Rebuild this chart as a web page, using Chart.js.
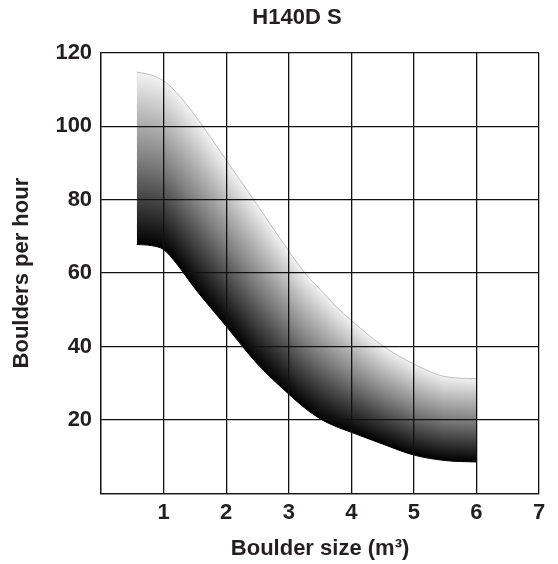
<!DOCTYPE html>
<html>
<head>
<meta charset="utf-8">
<title>H140D S</title>
<script src="https://cdn.jsdelivr.net/npm/chart.js@4"></script>
<style>
    html, body { margin: 0; padding: 0; background: #fff; }
    #wrap { width: 558px; height: 564px; position: relative; }
</style>
</head>
<body>
<div id="wrap"><canvas id="boulderChart"></canvas></div>
<script>
        // Boulder size (m3) and the capacity band
        const sizes = [0.57, 0.8, 1.0, 1.2, 1.5, 2.0, 2.5, 3.0, 3.25, 3.5, 3.75, 4.0, 4.5, 5.0, 5.5, 6.0];
        const upperRate = [114.8, 114, 112.4, 109.3, 103, 90.8, 78.5, 66, 60.2, 55.6, 51, 47.1, 40.2, 35.2, 31.8, 31.2];
        const lowerRate = [67.8, 67.5, 66.4, 62.7, 55.8, 45.5, 35.2, 27.0, 23.3, 20.3, 18.2, 16.6, 13.4, 10.4, 8.9, 8.5];

        // Tick labels
        const xTicks = [0, 1, 2, 3, 4, 5, 6, 7];
        const yTicks = [0, 20, 40, 60, 80, 100, 120];

        const fontFamily = '"Liberation Sans", Arial, Helvetica, sans-serif';
        const ink = '#231f20';

        // value of a series at boulder size v (only used for shading)
        function valueAt(series, v) {
            if (v <= sizes[0]) return series[0];
            for (let i = 1; i < sizes.length; i++) {
                if (v <= sizes[i]) {
                    const t = (v - sizes[i - 1]) / (sizes[i] - sizes[i - 1]);
                    return series[i - 1] + t * (series[i] - series[i - 1]);
                }
            }
            return series[series.length - 1];
        }

        // Shade each column black at the lower edge, light at the upper edge
        let patternCache = null;
        function bandFill(context) {
            const chart = context.chart;
            const area = chart.chartArea;
            if (!area) return '#888';
            const key = [area.left, area.top, area.right, area.bottom].join(',');
            if (patternCache && patternCache.key === key) return patternCache.pattern;

            const xs = chart.scales.x;
            const ys = chart.scales.y;
            const off = document.createElement('canvas');
            off.width = chart.width;
            off.height = chart.height;
            const c = off.getContext('2d');
            const x0 = Math.floor(xs.getPixelForValue(sizes[0])) - 1;
            const x1 = Math.ceil(xs.getPixelForValue(sizes[sizes.length - 1])) + 1;
            for (let px = x0; px <= x1; px++) {
                const v = xs.getValueForPixel(px + 0.5);
                const yUp = ys.getPixelForValue(valueAt(upperRate, v));
                const yLo = ys.getPixelForValue(valueAt(lowerRate, v));
                const g = c.createLinearGradient(0, yLo, 0, yUp);
                g.addColorStop(0, '#000000');
                g.addColorStop(0.5, '#808080');
                g.addColorStop(1, '#f2f2f2');
                c.fillStyle = g;
                c.fillRect(px, area.top, 1, area.bottom - area.top);
            }
            const pattern = chart.ctx.createPattern(off, 'no-repeat');
            patternCache = { key: key, pattern: pattern };
            return pattern;
        }

        // Title drawn a little left of the plot centre, as in the original
        const titlePlugin = {
            id: 'sheetTitle',
            afterDraw(chart) {
                const ctx = chart.ctx;
                ctx.save();
                ctx.font = 'bold 22px ' + fontFamily;
                ctx.fillStyle = ink;
                ctx.textAlign = 'center';
                ctx.textBaseline = 'middle';
                ctx.fillText('H140D S', 297, 18);
                ctx.restore();
            }
        };

        document.addEventListener('DOMContentLoaded', function() {
            const ctx = document.getElementById('boulderChart').getContext('2d');
            const boulderChart = new Chart(ctx, {
                type: 'line',
                data: {
                    labels: sizes,
                    datasets: [{
                        label: 'Upper',
                        data: sizes.map((s, i) => ({ x: s, y: upperRate[i] })),
                        borderColor: '#bdbdbd',
                        borderWidth: 1,
                        backgroundColor: bandFill,
                        fill: '+1',
                        pointRadius: 0,
                        pointBackgroundColor: '#000',
                        cubicInterpolationMode: 'monotone'
                    }, {
                        label: 'Lower',
                        data: sizes.map((s, i) => ({ x: s, y: lowerRate[i] })),
                        borderColor: '#000',
                        borderWidth: 1,
                        backgroundColor: '#000',
                        fill: false,
                        pointRadius: 0,
                        cubicInterpolationMode: 'monotone'
                    }]
                },
                options: {
                    responsive: true,
                    maintainAspectRatio: false,
                    animation: false,
                    layout: {
                        padding: { top: 53, right: 19, bottom: 2, left: 4 }
                    },
                    plugins: {
                        legend: { display: false },
                        tooltip: { enabled: false },
                        title: { display: false }
                    },
                    scales: {
                        x: {
                            type: 'linear',
                            min: 0,
                            max: 7,
                            afterBuildTicks: function(axis) {
                                axis.ticks = xTicks.map(v => ({ value: v }));
                            },
                            grid: {
                                color: '#111',
                                lineWidth: 1.3,
                                drawTicks: false,
                                z: 1
                            },
                            border: { color: '#111', width: 1.3, z: 1 },
                            ticks: {
                                padding: 7,
                                color: ink,
                                font: { family: fontFamily, size: 22, weight: 'bold' },
                                maxRotation: 0,
                                callback: function(value) {
                                    return value === 0 ? '' : value;
                                }
                            },
                            title: {
                                display: true,
                                text: 'Boulder size (m³)',
                                color: ink,
                                font: { family: fontFamily, size: 22, weight: 'bold' },
                                padding: { top: 2, bottom: 0 }
                            }
                        },
                        y: {
                            min: 0,
                            max: 120,
                            afterBuildTicks: function(axis) {
                                axis.ticks = yTicks.map(v => ({ value: v }));
                            },
                            grid: {
                                color: '#111',
                                lineWidth: 1.3,
                                drawTicks: false,
                                z: 1
                            },
                            border: { color: '#111', width: 1.3, z: 1 },
                            ticks: {
                                padding: 9,
                                color: ink,
                                font: { family: fontFamily, size: 22, weight: 'bold' },
                                callback: function(value) {
                                    return value === 0 ? '' : value;
                                }
                            },
                            title: {
                                display: true,
                                text: 'Boulders per hour',
                                color: ink,
                                font: { family: fontFamily, size: 22, weight: 'bold' },
                                padding: { top: 5, bottom: 11 }
                            }
                        }
                    }
                },
                plugins: [titlePlugin]
            });
        });
</script>
</body>
</html>
